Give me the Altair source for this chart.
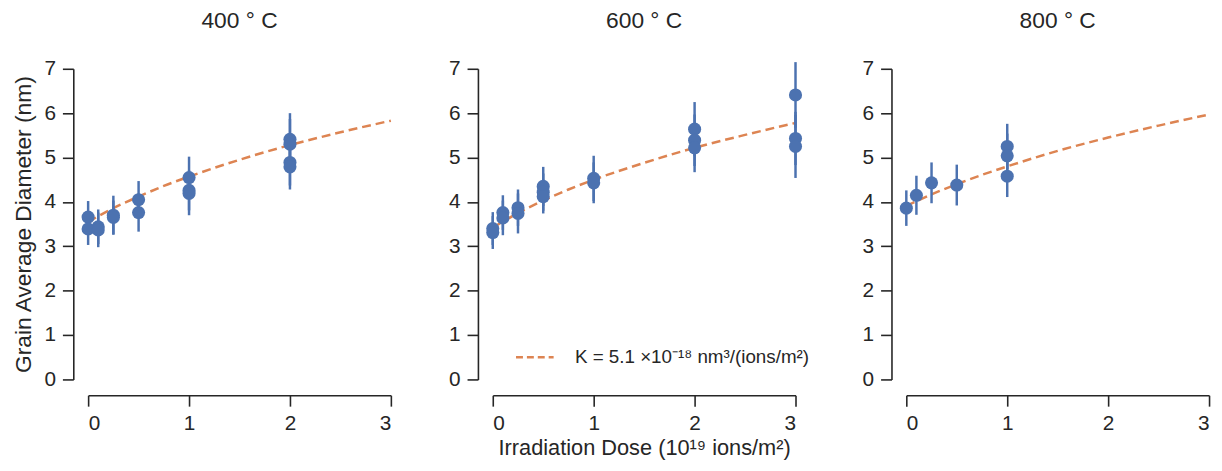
import altair as alt
import pandas as pd

# ---- data ----
dose_400 = [0, 0, 0.1, 0.1, 0.25, 0.25, 0.5, 0.5, 1, 1, 1, 2, 2, 2, 2]
diam_400 = [3.66, 3.39, 3.44, 3.37, 3.70, 3.65, 4.05, 3.76, 4.55, 4.26, 4.19, 5.41, 5.30, 4.89, 4.79]
err_400 = [0.36, 0.36, 0.39, 0.39, 0.44, 0.38, 0.42, 0.43, 0.47, 0.45, 0.49, 0.59, 0.57, 0.52, 0.51]

dose_600 = [0, 0, 0.1, 0.1, 0.25, 0.25, 0.5, 0.5, 0.5, 1, 1, 2, 2, 2, 3, 3, 3]
diam_600 = [3.40, 3.31, 3.76, 3.64, 3.87, 3.74, 4.35, 4.22, 4.12, 4.53, 4.43, 5.64, 5.39, 5.22, 6.41, 5.43, 5.25]
err_600 = [0.37, 0.37, 0.39, 0.39, 0.41, 0.45, 0.44, 0.42, 0.38, 0.51, 0.46, 0.61, 0.58, 0.55, 0.74, 0.60, 0.71]

dose_800 = [0, 0.1, 0.25, 0.5, 1, 1, 1]
diam_800 = [3.86, 4.15, 4.43, 4.38, 5.25, 5.04, 4.58]
err_800 = [0.40, 0.44, 0.46, 0.46, 0.51, 0.50, 0.47]

fit_dose = [0, 0.25, 0.5, 0.75, 1, 1.5, 2, 2.5, 3]
fit_400 = [3.55, 3.86, 4.12, 4.36, 4.57, 4.95, 5.28, 5.57, 5.83]
fit_600 = [3.42, 3.75, 4.03, 4.28, 4.50, 4.88, 5.22, 5.51, 5.78]
fit_800 = [3.91, 4.17, 4.40, 4.61, 4.80, 5.15, 5.45, 5.72, 5.97]

titles = ["400 ° C", "600 ° C", "800 ° C"]
legend_label = "K = 5.1 ×10⁻¹⁸ nm³/(ions/m²)"
y_title = "Grain Average Diameter (nm)"
x_title = "Irradiation Dose (10¹⁹ ions/m²)"

BLUE = "#4C72B0"
ORANGE = "#DD8452"
INK = "#262626"
FONT = "Liberation Sans"
W, H = 306, 314


def panel(i, dose, diam, err, fit):
    pts = pd.DataFrame({"dose": dose, "diam": diam, "err": err})
    fit_df = pd.DataFrame({"dose": fit_dose, "diam": fit, "series": legend_label})

    x_axis = alt.Axis(values=[0, 1, 2, 3], format="d", offset=16, grid=False, tickSize=11,
                      labelPadding=7, title=x_title if i == 1 else None, titlePadding=4,
                      titleFontSize=22)
    y_axis = alt.Axis(values=list(range(8)), format="d", offset=15, grid=False, tickSize=11,
                      labelPadding=7, title=y_title if i == 0 else None, titlePadding=9)
    xs = alt.Scale(domain=[0, 3], nice=False, zero=False)
    ys = alt.Scale(domain=[0, 7], nice=False)

    if i == 1:
        legend = alt.Legend(title=None, orient="none", legendX=22, legendY=271, padding=0,
                            symbolType="stroke", symbolDash=[7, 4], symbolStrokeWidth=2.5,
                            symbolSize=1444, labelFontSize=19, labelColor=INK,
                            labelFont=FONT, labelOffset=20, symbolStrokeColor=ORANGE,
                            labelLimit=0)
    else:
        legend = None

    line = alt.Chart(fit_df).mark_line(strokeDash=[9, 5], strokeWidth=2.5,
                                       interpolate="monotone").encode(
        x=alt.X("dose:Q", scale=xs, axis=x_axis),
        y=alt.Y("diam:Q", scale=ys, axis=y_axis),
        color=alt.Color("series:N", scale=alt.Scale(range=[ORANGE]), legend=legend),
    )
    bars = alt.Chart(pts).transform_calculate(
        lo="datum.diam - datum.err", hi="datum.diam + datum.err"
    ).mark_rule(color=BLUE, strokeWidth=2.5).encode(
        x="dose:Q", y="lo:Q", y2="hi:Q"
    )
    dots = alt.Chart(pts).mark_circle(color=BLUE, opacity=1, size=175).encode(
        x="dose:Q", y="diam:Q"
    )
    return alt.layer(line, bars, dots).properties(
        width=W, height=H,
        title=alt.TitleParams(titles[i], fontSize=23, fontWeight="normal",
                              font=FONT, color=INK, offset=25),
    )


chart = alt.hconcat(
    panel(0, dose_400, diam_400, err_400, fit_400),
    panel(1, dose_600, diam_600, err_600, fit_600),
    panel(2, dose_800, diam_800, err_800, fit_800),
    spacing=53,
).resolve_scale(color="independent").resolve_legend(color="independent").configure_view(
    stroke=None
).configure_axis(
    domainColor=INK, tickColor=INK, domainWidth=1.6, tickWidth=1.6,
    labelFontSize=21, labelColor=INK, labelFont=FONT,
    titleFontSize=23, titleFontWeight="normal", titleColor=INK, titleFont=FONT,
).properties(padding={"left": 4, "top": 0, "right": 0, "bottom": 0})

chart.save("out.html", embed_options={"renderer": "svg", "actions": False})
